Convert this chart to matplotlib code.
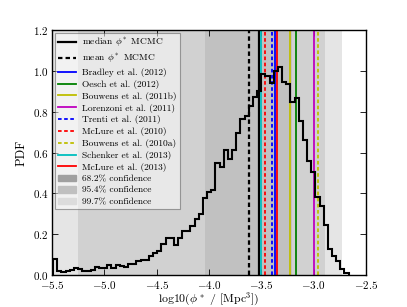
import matplotlib
matplotlib.use('Agg')
import matplotlib.pyplot as plt
from matplotlib.patches import Patch
import numpy as np

plt.rcParams['font.family'] = 'serif'
plt.rcParams['font.serif'] = ['cmr10', 'DejaVu Serif']
plt.rcParams['mathtext.fontset'] = 'cm'
plt.rcParams['axes.formatter.use_mathtext'] = True

### Histogram of log10(phi*) samples (PDF per bin)
bin_lo, bin_hi, n_bins = -5.49, -2.665, 71
pdf_values = [0.078, 0.021, 0.015, 0.021, 0.026, 0.033, 0.030, 0.021, 0.018, 0.026,
              0.040, 0.033, 0.037, 0.050, 0.033, 0.050, 0.045, 0.040, 0.054, 0.054,
              0.067, 0.075, 0.075, 0.092, 0.110, 0.118, 0.150, 0.184, 0.184, 0.146,
              0.184, 0.216, 0.216, 0.241, 0.276, 0.298, 0.379, 0.407, 0.415, 0.550,
              0.530, 0.615, 0.570, 0.615, 0.696, 0.764, 0.780, 0.828, 0.870, 0.900,
              0.987, 0.975, 0.940, 1.000, 1.021, 0.948, 0.935, 0.846, 0.867, 0.755,
              0.660, 0.558, 0.504, 0.384, 0.338, 0.244, 0.127, 0.094, 0.070, 0.029,
              0.010]

# Confidence intervals (low, high)
conf_labels = ['68.2% confidence', '95.4% confidence', '99.7% confidence']
conf_lo = [-4.04, -5.25, -5.6]
conf_hi = [-3.21, -2.89, -2.73]

# Literature / MCMC values of log10(phi*)
ref_labels = [r'median $\phi^*$ MCMC', r'mean $\phi^*$ MCMC', 'Bradley et al. (2012)',
              'Oesch et al. (2012)', 'Bouwens et al. (2011b)', 'Lorenzoni et al. (2011)',
              'Trenti et al. (2011)', 'McLure et al. (2010)', 'Bouwens et al. (2010a)',
              'Schenker et al. (2013)', 'McLure et al. (2013)']
ref_values = [-3.52, -3.62, -3.37, -3.17, -3.23, -3.00, -3.40, -3.46, -2.96, -3.50, -3.353]
ref_colors = ['k', 'k', 'b', 'g', 'y', 'm', 'b', 'r', 'y', 'c', 'r']
ref_styles = ['-', '--', '-', '-', '-', '-', '--', '--', '--', '-', '-']

classic = {'b': '#0000ff', 'g': '#008000', 'y': '#bfbf00', 'm': '#bf00bf',
           'r': '#ff0000', 'c': '#00bfbf', 'k': '#000000'}

fig = plt.figure(figsize=(4.07, 3.07), dpi=100)
ax = fig.add_axes([0.128, 0.104, 0.771, 0.798])

# Shaded confidence regions (layered)
fill_cols = ['#c1c1c1', '#d1d1d1', '#e5e5e5']
for i in [2, 1, 0]:
    ax.axvspan(conf_lo[i], conf_hi[i], color=fill_cols[i], lw=0, zorder=0)

edges = np.linspace(bin_lo, bin_hi, n_bins + 1)
ax.stairs(pdf_values, edges, color='k', lw=1.5, zorder=3)

handles = []
for val, col, ls, lab in zip(ref_values, ref_colors, ref_styles, ref_labels):
    lw = 1.6 if col == 'k' else 1.3
    ln = ax.axvline(val, color=classic[col], lw=lw, zorder=2, label=lab)
    if ls == '--':
        ln.set_dashes((2.0, 1.4))
    handles.append(ln)

patch_cols = ['#a0a0a0', '#c0c0c0', '#dcdcdc']
for lab, pc in zip(conf_labels, patch_cols):
    handles.append(Patch(facecolor=pc, edgecolor=pc, label=lab))

ax.set_xlim(-5.5, -2.5)
ax.set_ylim(0, 1.2)
ax.set_xticks(np.arange(-5.5, -2.49, 0.5))
ax.set_yticks(np.arange(0, 1.21, 0.2))
ax.tick_params(direction='in', top=True, right=True, labelsize=8, length=4,
               width=0.6, pad=2.5)
for s in ax.spines.values():
    s.set_linewidth(1.0)
ax.set_xlabel(r'log10($\phi^*$ / [Mpc$^3$])', fontsize=8.5, labelpad=0)
ax.set_ylabel('PDF', fontsize=9, labelpad=4)

leg = ax.legend(handles=handles, loc='upper left', fontsize=6.8, fancybox=False,
                framealpha=0.5, edgecolor='0.3', borderaxespad=0.3,
                handlelength=1.9, handletextpad=0.6, labelspacing=0.3,
                borderpad=0.35)
leg.get_frame().set_linewidth(0.8)
leg.set_zorder(5)

plt.savefig('out.png', dpi=100)
